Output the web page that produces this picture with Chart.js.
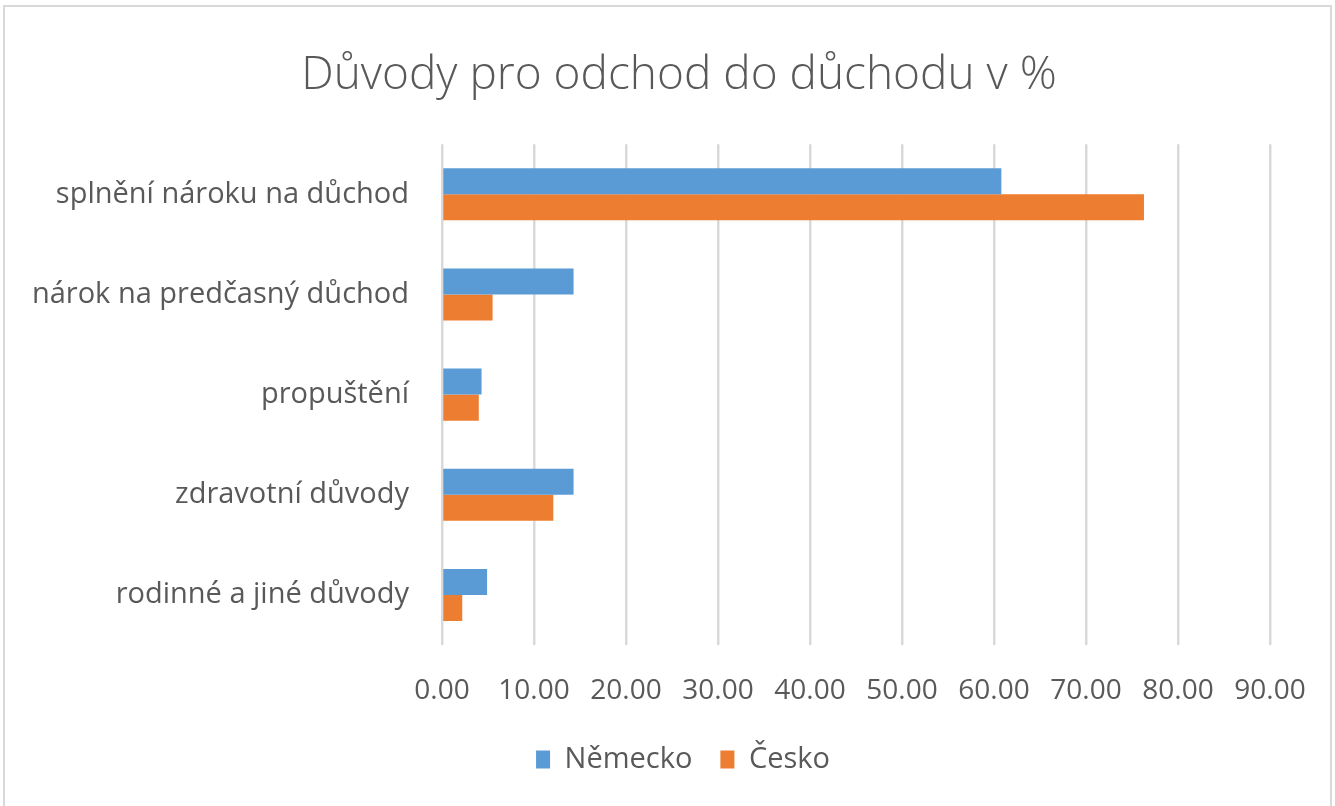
<!DOCTYPE html>
<html lang="cs">
<head>
    <meta charset="UTF-8">
    <title>Důvody pro odchod do důchodu v %</title>
    <script src="https://cdn.jsdelivr.net/npm/chart.js"></script>
    <style>
        * { margin: 0; padding: 0; }
        body { background: #fff; }
        #chartContainer {
            position: absolute;
            left: 0; top: 0;
            width: 1335px;
            height: 806px;
        }
        #frame {
            position: absolute;
            left: 3px; top: 5px;
            width: 1329px; height: 803px;
            border: 2px solid #d9d9d9;
            box-sizing: border-box;
            pointer-events: none;
        }
    </style>
</head>
<body>
    <div id="chartContainer">
        <canvas id="duvodyChart"></canvas>
    </div>
    <div id="frame"></div>

    <script>
        const categories = [
            'splnění nároku na důchod',
            'nárok na predčasný důchod',
            'propuštění',
            'zdravotní důvody',
            'rodinné a jiné důvody'
        ];
        const nemecko = [60.8, 14.3, 4.3, 14.3, 4.9];
        const cesko = [76.3, 5.5, 4.0, 12.1, 2.2];

        const textColor = '#595959';
        const fontFamily = '"Open Sans", "Noto Sans", sans-serif';

        // title and legend sit a bit right of the canvas centre in the original
        const shiftBlocks = {
            id: 'shiftBlocks',
            afterLayout(chart) {
                const t = chart.titleBlock;
                if (t) { t.left += 44; t.right += 44; }
                const l = chart.legend;
                if (l) { l.left += 48; l.right += 48; }
            }
        };

        const ctx = document.getElementById('duvodyChart').getContext('2d');
        const chart = new Chart(ctx, {
            type: 'bar',
            data: {
                labels: categories,
                datasets: [
                    {
                        label: 'Německo',
                        data: nemecko,
                        backgroundColor: '#5b9bd5',
                        categoryPercentage: 0.52,
                        barPercentage: 1.0
                    },
                    {
                        label: 'Česko',
                        data: cesko,
                        backgroundColor: '#ed7d31',
                        categoryPercentage: 0.52,
                        barPercentage: 1.0
                    }
                ]
            },
            options: {
                indexAxis: 'y',
                responsive: true,
                maintainAspectRatio: false,
                animation: false,
                layout: {
                    padding: { left: 0, right: 65, top: 0, bottom: 22 }
                },
                scales: {
                    x: {
                        min: 0,
                        max: 90,
                        grid: {
                            color: '#d9d9d9',
                            lineWidth: 2.5,
                            drawTicks: false
                        },
                        border: { display: false },
                        ticks: {
                            stepSize: 10,
                            padding: 29,
                            color: textColor,
                            font: { family: fontFamily, size: 28 },
                            callback: function(value) {
                                return value.toFixed(2);
                            }
                        },
                        afterFit: function(scale) {
                            scale.height = 72;
                        }
                    },
                    y: {
                        grid: { display: false, drawTicks: false },
                        border: { display: false },
                        ticks: {
                            padding: 33,
                            color: textColor,
                            font: { family: fontFamily, size: 29 }
                        },
                        afterFit: function(scale) {
                            scale.width = 442;
                        }
                    }
                },
                plugins: {
                    title: {
                        display: true,
                        text: 'Důvody pro odchod do důchodu v %',
                        color: textColor,
                        font: { family: fontFamily, size: 46, weight: '300' },
                        padding: { top: 48, bottom: 41 }
                    },
                    legend: {
                        position: 'bottom',
                        labels: {
                            color: textColor,
                            font: { family: fontFamily, size: 29 },
                            boxWidth: 14,
                            boxHeight: 18,
                            padding: 28
                        }
                    },
                    tooltip: { enabled: false }
                }
            },
            plugins: [shiftBlocks]
        });
    </script>
</body>
</html>
